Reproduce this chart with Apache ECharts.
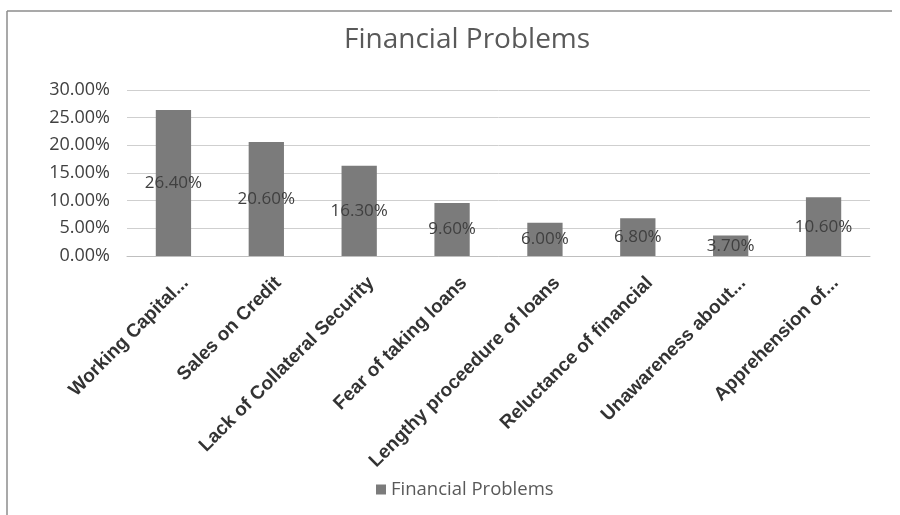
<!DOCTYPE html>
<html>
<head>
<meta charset="utf-8">
<script src="https://cdn.jsdelivr.net/npm/echarts@6/dist/echarts.min.js"></script>
<style>
  html, body { margin: 0; padding: 0; background: #fff; }
  #chart { width: 900px; height: 515px; }
</style>
</head>
<body>
<div id="chart"></div>
<script>
// Categories and shares (percent) of reported financial problems
const categories = [
  'Working Capital...',
  'Sales on Credit',
  'Lack of Collateral Security',
  'Fear of taking loans',
  'Lengthy proceedure of loans',
  'Reluctance of financial',
  'Unawareness about...',
  'Apprehension of...'
];
const shares = [26.4, 20.6, 16.3, 9.6, 6.0, 6.8, 3.7, 10.6];
const seriesName = 'Financial Problems';
const yTicks = { min: 0, max: 30, step: 5 };

const chart = echarts.init(document.getElementById('chart'));
chart.setOption({
  animation: false,
  backgroundColor: '#ffffff',
  title: {
    text: 'Financial Problems',
    left: 339,
    top: 21,
    textStyle: { fontFamily: 'Open Sans', fontWeight: 'normal', fontSize: 28, color: '#595959' }
  },
  legend: {
    data: [seriesName],
    bottom: 11,
    left: 371,
    icon: 'rect',
    itemWidth: 10,
    itemHeight: 10,
    itemGap: 7,
    textStyle: { fontFamily: 'Open Sans', fontSize: 18.5, color: '#595959' }
  },
  grid: { left: 127, right: 30, top: 90, bottom: 259 },
  xAxis: {
    type: 'category',
    data: categories,
    axisTick: { show: false },
    axisLine: { lineStyle: { color: '#bfbfbf' } },
    axisLabel: {
      interval: 0,
      rotate: 45,
      margin: 12,
      // extra top padding nudges the slanted labels down-right of each tick
      formatter: v => '{c|' + v + '}',
      rich: {
        c: {
          padding: [34, 0, 0, 0],
          fontFamily: 'Liberation Sans',
          fontWeight: 'bold',
          fontSize: 19,
          color: '#333333'
        }
      }
    }
  },
  yAxis: {
    type: 'value',
    min: yTicks.min,
    max: yTicks.max,
    interval: yTicks.step,
    axisLine: { show: false },
    axisTick: { show: false },
    splitLine: { lineStyle: { color: '#cfcfcf' } },
    axisLabel: {
      margin: 17,
      fontFamily: 'Open Sans',
      fontSize: 18,
      color: '#404040',
      formatter: v => v.toFixed(2) + '%'
    }
  },
  series: [{
    name: seriesName,
    type: 'bar',
    data: shares,
    barWidth: '38%',
    itemStyle: { color: '#7b7b7b' },
    label: {
      show: true,
      position: 'inside',
      fontFamily: 'Open Sans',
      fontSize: 17,
      color: '#404040',
      formatter: p => p.value.toFixed(2) + '%'
    }
  }],
  graphic: [
    { type: 'line', shape: { x1: 7, y1: 11, x2: 892, y2: 11 }, style: { stroke: '#8c8c8c', lineWidth: 1.5 } },
    { type: 'line', shape: { x1: 7, y1: 11, x2: 7, y2: 515 }, style: { stroke: '#8c8c8c', lineWidth: 1.5 } }
  ]
});
</script>
</body>
</html>
